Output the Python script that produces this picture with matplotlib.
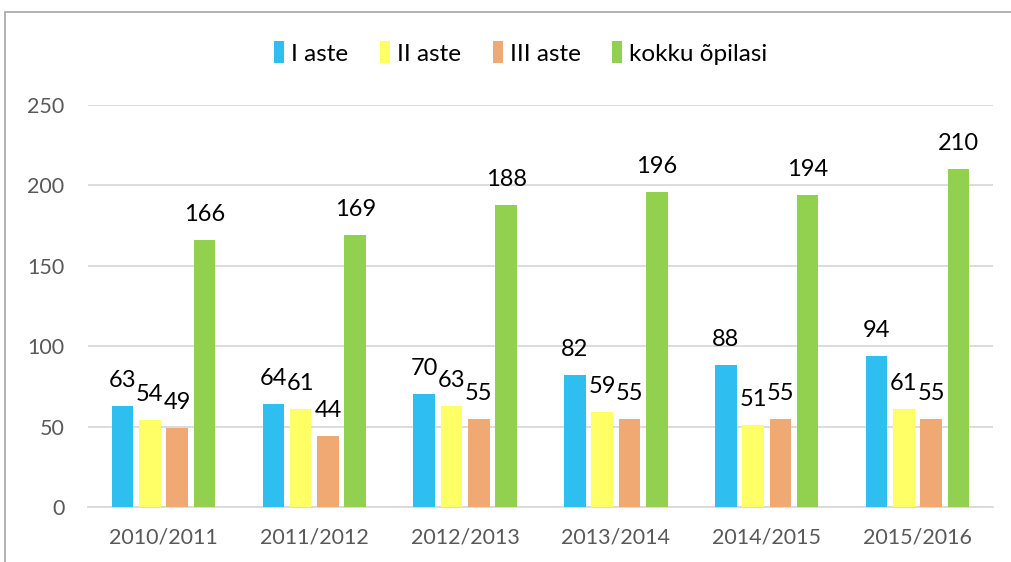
import matplotlib
matplotlib.use("Agg")
import matplotlib.pyplot as plt
import numpy as np
from matplotlib.patches import Rectangle

categories = ["2010/2011", "2011/2012", "2012/2013", "2013/2014", "2014/2015", "2015/2016"]
series_names = ["I aste", "II aste", "III aste", "kokku õpilasi"]
i_aste = [63, 64, 70, 82, 88, 94]
ii_aste = [54, 61, 63, 59, 51, 61]
iii_aste = [49, 44, 55, 55, 55, 55]
kokku = [166, 169, 188, 196, 194, 210]
yticks = [0, 50, 100, 150, 200, 250]

colors = ["#2FBEF0", "#FFFF66", "#F0A972", "#92D050"]

plt.rcParams['font.family'] = ['Lato', 'DejaVu Sans']

fig = plt.figure(figsize=(10.12, 5.62), dpi=100)
ax = fig.add_axes([88/1012, 1-507/562, 905/1012, 402/562])

# outer chart border
fig.patches.append(Rectangle((5/1012, -0.05), 1.1, (1-12/562)+0.05, transform=fig.transFigure,
                             fill=False, edgecolor="#A6A6A6", linewidth=1.2))

x = np.arange(len(categories))
pitch = 0.181
width = 0.143
all_series = [i_aste, ii_aste, iii_aste, kokku]
handles = []
for k, (vals, col, name) in enumerate(zip(all_series, colors, series_names)):
    pos = x + (k - 1.5) * pitch
    bars = ax.bar(pos, vals, width=width, color=col, label=name, zorder=3)
    handles.append(bars)
    for p, v in zip(pos, vals):
        ax.annotate(str(v), (p, v), xytext=(0, 13.7), textcoords="offset points",
                    ha="center", va="baseline", fontsize=17, color="#000000", zorder=4)

ax.set_xlim(-0.5, len(categories) - 0.5)
ax.set_ylim(0, 250)
ax.set_yticks(yticks)
ax.set_xticks(x)
ax.set_xticklabels(categories)
ax.tick_params(axis="both", length=0, labelsize=15.5, colors="#595959")
ax.tick_params(axis="x", pad=15)
ax.tick_params(axis="y", pad=17)
ax.grid(axis="y", color="#D9D9D9", linewidth=1.3, zorder=0)
for s in ["top", "right", "left"]:
    ax.spines[s].set_visible(False)
ax.spines["bottom"].set_color("#D9D9D9")
ax.spines["bottom"].set_linewidth(1.3)

fig.legend(handles=handles, labels=series_names, loc="center", bbox_to_anchor=(521/1012, 1-53/562),
           ncol=4, frameon=False, fontsize=17.5, handlelength=0.4, handleheight=1.0,
           handletextpad=0.3, columnspacing=1.3)

fig.savefig("out.png", dpi=100)
